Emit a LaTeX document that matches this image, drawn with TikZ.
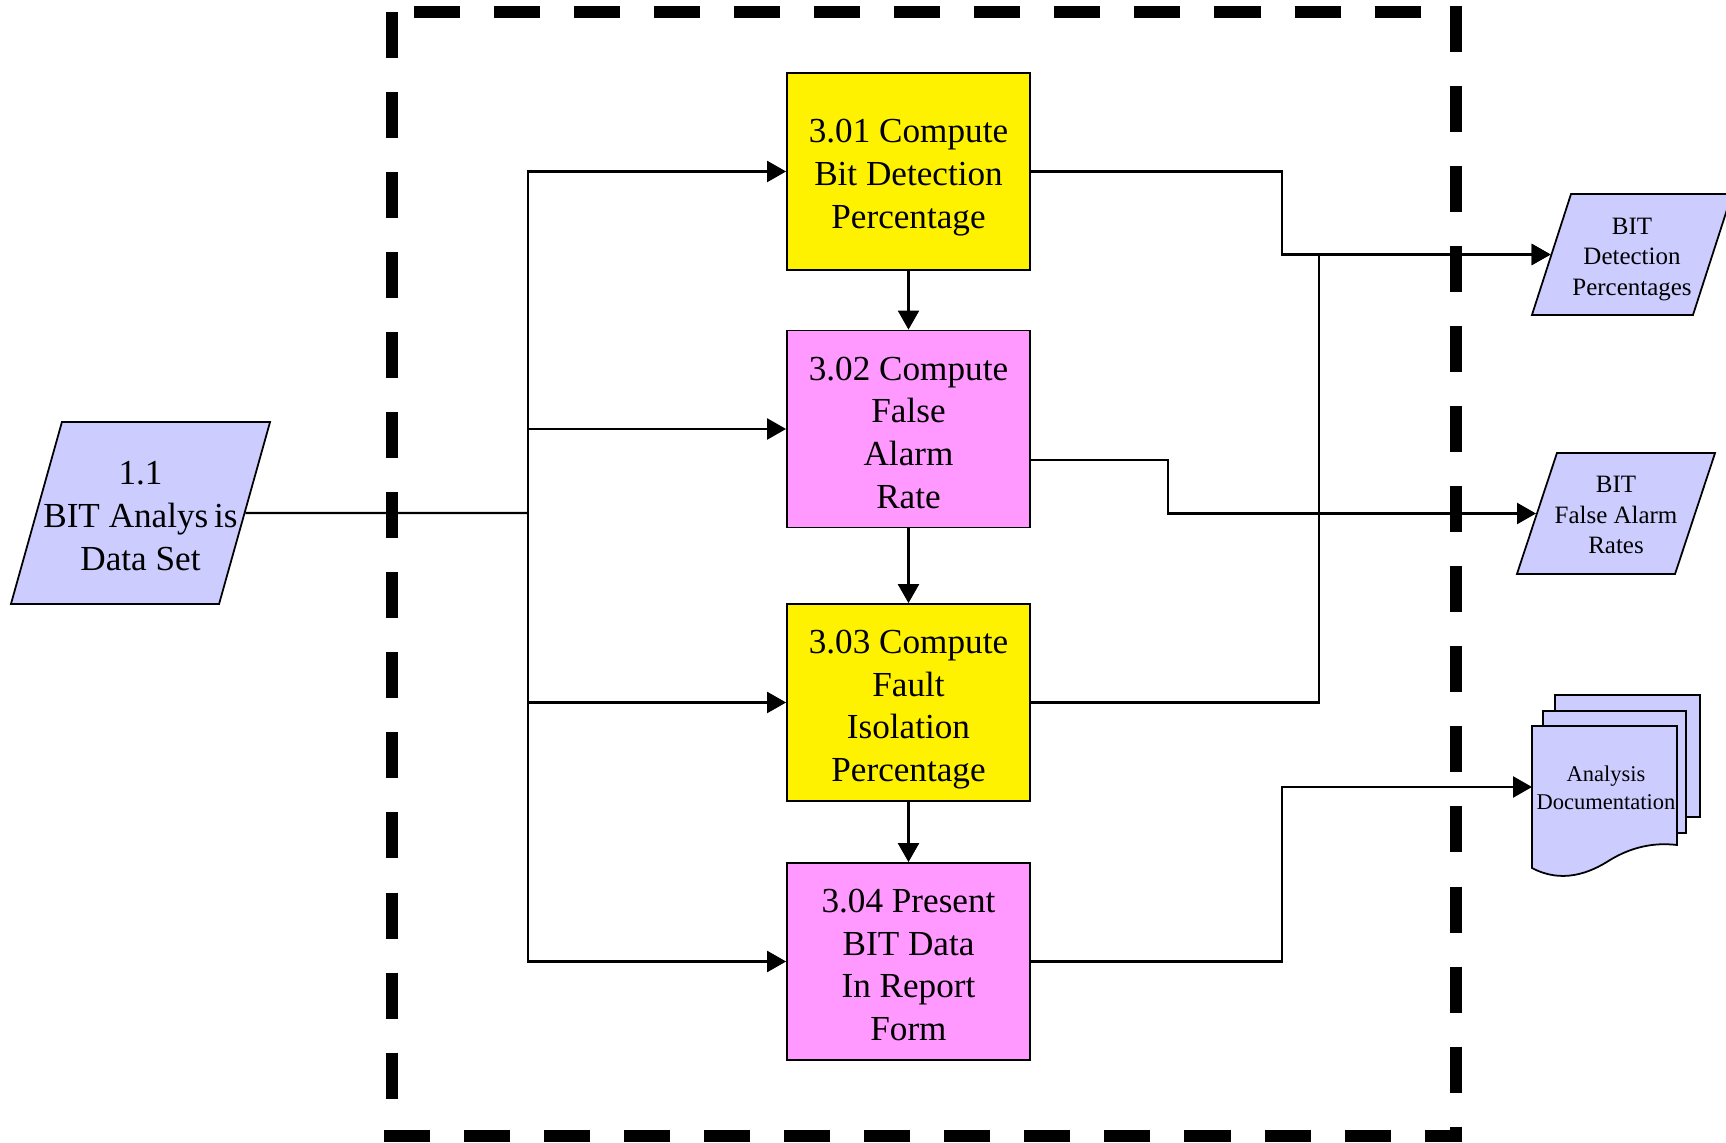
\documentclass[tikz,border=0pt]{standalone}
\usepackage{fontspec}
\setmainfont{Liberation Serif}
\usetikzlibrary{arrows.meta, shapes.geometric, calc}
\definecolor{pinkfill}{HTML}{FF99FF}
\definecolor{lavfill}{HTML}{CCCCFF}

\begin{document}
\begin{tikzpicture}[x=0.01cm, y=-0.01cm,
  procbox/.style={draw, line width=0.5pt, minimum width=2.43cm, minimum height=1.97cm, inner sep=0pt, align=center, font=\fontsize{10}{12.1}\selectfont},
  threelines/.style={text height=44.1pt, text depth=11.95pt},
  fourlines/.style={text height=50.5pt, text depth=5.55pt},
  datashape/.style={trapezium, trapezium stretches body, draw, line width=0.5pt, fill=lavfill, inner sep=0pt, inner xsep=-8pt, align=center},
  arr/.style={-{Triangle[length=5.4pt,width=6pt]}, line width=0.6pt},
  wire/.style={line width=0.6pt},
  border/.style={line width=0.12cm, dash pattern=on 0.46cm off 0.34cm}]
  \useasboundingbox (0,0) rectangle (1726,1143);

  % dashed boundary
  \draw[border] (392,12) -- (392,1142);
  \draw[border] (384,1136) -- (1462,1136);
  \draw[border] (414,12) -- (1440,12);
  \draw[border] (1456,6) -- (1456,1142);

  % process boxes
  \node[procbox, threelines, fill=yellow] (b1) at (908.5,171.5) {3.01 Compute\\Bit Detection\\Percentage};
  \node[procbox, fourlines, fill=pinkfill] (b2) at (908.5,429) {3.02 Compute\\False\\Alarm\\Rate};
  \node[procbox, fourlines, fill=yellow] (b3) at (908.5,702.5) {3.03 Compute\\Fault\\Isolation\\Percentage};
  \node[procbox, fourlines, fill=pinkfill] (b4) at (908.5,961.5) {3.04 Present\\BIT Data\\In Report\\Form};

  % data in and out
  \node[datashape, trapezium left angle=74.35, trapezium right angle=105.65, minimum width=2.59cm, text height=42.3pt, text depth=9.5pt, font=\fontsize{10}{12.2}\selectfont] (inp) at (140.5,513) {1.1\\BIT Analys\,is\\Data Set};
  \node[datashape, trapezium left angle=72.1, trapezium right angle=107.9, minimum width=2.00cm, text height=28.8pt, text depth=5.6pt, font=\fontsize{7.1}{8.7}\selectfont] (o1) at (1632,254.5) {BIT\\Detection\\Percentages};
  \node[datashape, trapezium left angle=71.7, trapezium right angle=108.3, minimum width=1.98cm, text height=28.7pt, text depth=5.7pt, font=\fontsize{7.1}{8.7}\selectfont] (o2) at (1616,513.5) {BIT\\False Alarm\\Rates};

  % document stack
  \draw[line width=0.5pt, fill=lavfill] (1555,695) rectangle (1700,817);
  \draw[line width=0.5pt, fill=lavfill] (1543,711) rectangle (1686,833);
  \draw[line width=0.5pt, fill=lavfill] (1532,726) -- (1677,726) -- (1677,845)
    .. controls (1652,842) and (1630,848) .. (1610,860)
    .. controls (1590,873) and (1562,884) .. (1532,868) -- cycle;
  \node[font=\fontsize{6.4}{8}\selectfont, align=center, inner sep=0pt] (doc) at (1606,788) {Analysis\\Documentation};
  \coordinate (docin) at (1532,787);

  % connectors
  \coordinate (bus) at (528,513);
  \draw[wire] (inp.east) -- (bus);
  \foreach \b in {b1,b2,b3,b4}
    \draw[arr] (bus) |- (\b.west);
  \foreach \a/\b in {b1/b2,b2/b3,b3/b4}
    \draw[arr] (\a.south) -- (\b.north);
  \draw[arr] (b1.east) -- ++(251,0) |- (o1.west);
  \draw[arr] (b3.east) -- ++(288,0) |- (o1.west);
  \draw[arr] ($(b2.east)+(0,31)$) -- ++(137,0) |- (o2.west);
  \draw[arr] (b4.east) -- ++(251,0) |- (docin);
\end{tikzpicture}
\end{document}
